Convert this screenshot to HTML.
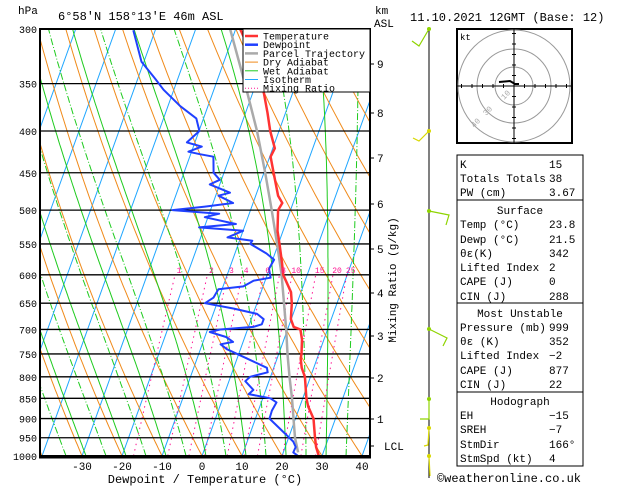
<!DOCTYPE html>
<html><head><meta charset="utf-8"><style>
body{margin:0;background:#fff;}
svg{display:block;font-family:"Liberation Mono","DejaVu Sans Mono",monospace;}
</style></head><body>
<svg id="c" width="629" height="486" viewBox="0 0 629 486">
<defs><clipPath id="pc"><rect x="40" y="29" width="330" height="427"/></clipPath></defs>
<g id="bg" clip-path="url(#pc)"></g>
<g id="series" clip-path="url(#pc)"></g>
<g id="frame"></g>
</svg>
<script>
const pLevels=[1000,950,900,850,800,750,700,650,600,550,500,450,400,350,300];
const xTicks=[-30,-20,-10,0,10,20,30,40];
const tempP=[1000,975,950,900,870,850,800,780,760,750,720,700,695,680,650,630,600,580,550,530,500,490,480,450,430,420,400,380,360,330,300];
const tempT=[29.2,27.7,26.6,24.5,22.1,20.9,18.6,17.0,15.9,15.7,14.5,13.2,11.3,9.9,8.7,7.5,4.0,2.6,0.3,-1.4,-3.1,-2.7,-4.4,-7.6,-9.8,-9.5,-12.2,-14.5,-17.1,-22,-28.9];
const dewP=[1000,990,975,960,900,880,860,850,840,830,810,800,790,780,740,730,725,715,705,700,695,690,680,670,660,650,640,625,620,610,605,590,575,565,550,545,540,530,525,520,510,505,500,495,490,480,476,465,459,450,430,427,424,418,413,400,386,373,356,345,329,301];
const dewT=[24,22.5,22.6,21.5,13.5,13.4,13.8,11.9,6.1,6.9,4.1,4.9,8.9,8.3,-3.4,-5.4,-2.5,-4.7,-9.2,-6.9,1.2,3.1,3.1,1.0,-5.3,-13,-11.4,-10.9,-4.9,-2.9,1.1,-0.1,0.35,-2.1,-7.0,-6.8,-13.3,-10,-21.3,-12.4,-20.8,-17.5,-29.5,-21.7,-15,-19.3,-16.7,-22.5,-20.4,-22.6,-24.1,-27.7,-30.8,-27.9,-32,-29.9,-31.8,-36.9,-42.6,-45.7,-50.6,-55.5];
const parP=[990,950,900,850,800,750,700,650,600,550,500,450,400,350,300];
const parT=[23.7,21.6,19.5,17.3,14.75,12.2,9.65,6.75,3.6,-0.3,-4.7,-9.7,-15.5,-22.75,-31.4];
const mixW=[1,2,3,4,6,8,10,15,20,25];
const kmLabels=["9","8","7","6","5","4","3","2","1","LCL"];
const kmY=[64,113,158,204,249,293,336,378,419,446];

const NS="http://www.w3.org/2000/svg";
const svg=document.getElementById('c');
function yP(p){return 29+354.6*Math.log(p/300);}
function xT(t,p){return 202+4.0*t+0.36*(456-yP(p));}
function mk(tag,at,parent){const e=document.createElementNS(NS,tag);for(const k in at)e.setAttribute(k,at[k]);(parent||svg).appendChild(e);return e;}
function txt(s,x,y,at,parent){const e=mk('text',Object.assign({x:x,y:y,'font-size':11,fill:'#000'},at||{}),parent);e.textContent=s;return e;}
const bg=document.getElementById('bg'),ser=document.getElementById('series'),fr=document.getElementById('frame');
function poly(pts){return pts.map(a=>a[0].toFixed(1)+','+a[1].toFixed(1)).join(' ');}
// isotherms
for(let t=-140;t<=40;t+=10){const e=mk('line',{x1:xT(t,1000),y1:yP(1000),x2:xT(t,300),y2:yP(300),stroke:'#1fa6ff','stroke-width':1},bg);

}
// dry adiabats
for(let t0=-60;t0<=160;t0+=10){const th=t0+273.15;const pts=[];for(let p=1000;p>=300;p-=10){pts.push([xT(th*Math.pow(p/1000,0.286)-273.15,p),yP(p)]);}
const e=mk('polyline',{points:poly(pts),fill:'none',stroke:'#f08a1a','stroke-width':1},bg);

}
// wet adiabats
function es(tc){return 6.112*Math.exp(17.67*tc/(tc+243.5));}
for(let t0=-34;t0<=40;t0+=5){let T=t0+273.15;const pts=[[xT(t0,1000),yP(1000)]];for(let p=1000;p>300;p-=5){const tc=T-273.15;const e=es(tc);const rs=0.622*e/(p-e);const dTdp=(287*T+2.5e6*rs)/(p*(1004+2.5e6*2.5e6*rs*0.622/(287*T*T)));T-=dTdp*5;pts.push([xT(T-273.15,p-5),yP(p-5)]);}
const e=mk('polyline',{points:poly(pts),fill:'none',stroke:'#1ecb1e','stroke-width':1,'stroke-dasharray':(t0%10===1||t0%10===-9)?'none':'7,2,1,2'},bg);

}
// mixing ratio
mixW.forEach(w=>{const pts=[];for(let p=1000;p>=600;p-=10){const e=w*p/(622+w);const l=Math.log(e/6.112);pts.push([xT(243.5*l/(17.67-l),p),yP(p)]);}
const e=mk('polyline',{points:poly(pts),fill:'none',stroke:'#ff1493','stroke-width':1,'stroke-dasharray':'1.5,4'},bg);


const last=pts[pts.length-1];const l=txt(String(w),last[0]+4,last[1]-2,{'font-size':8,fill:'#ff1493','text-anchor':'middle'},fr);

});
// pressure lines
pLevels.forEach(p=>{const y=yP(p);const e=mk('line',{x1:40,y1:y,x2:370,y2:y,stroke:'#000','stroke-width':1.3},bg);


const l=txt(String(p),37,y+4,{'text-anchor':'end','font-size':10},fr);

});
// series
function line(P,T,col,w,name){const pts=P.map((p,i)=>[xT(T[i],p),yP(p)]);const e=mk('polyline',{points:poly(pts),fill:'none',stroke:col,'stroke-width':w,'stroke-linejoin':'round'},ser);

}
line(parP,parT,'#aaaaaa',2.5,'parcel-trajectory');
line(tempP,tempT,'#ff3333',2.5,'temperature-line');
line(dewP,dewT,'#2040ff',2,'dewpoint-line');
// frame
let e=mk('rect',{x:40,y:29,width:330,height:427,fill:'none',stroke:'#000','stroke-width':2},fr);

mk('line',{x1:39,y1:457,x2:371,y2:457,stroke:'#000','stroke-width':3},fr);
xTicks.forEach(t=>{const x=xT(t,1000);const l=txt(String(t),x,470,{'text-anchor':'middle','font-size':11},fr);

});
e=txt('Dewpoint / Temperature (°C)',205,483,{'text-anchor':'middle','font-size':12},fr);
e=txt('hPa',18,14,{'font-size':11},fr);
e=txt("6°58'N 158°13'E 46m ASL",58,20,{'font-size':12},fr);
e=txt('km',375,14,{'font-size':11},fr);
e=txt('ASL',374,27,{'font-size':11},fr);

kmLabels.forEach((k,i)=>{mk('line',{x1:370,y1:kmY[i],x2:374,y2:kmY[i],stroke:'#000'},fr);const l=txt(k,k==='LCL'?384:377,kmY[i]+4,{'font-size':11},fr);

});
e=txt('Mixing Ratio (g/kg)',0,0,{'font-size':11,transform:'translate(396,280) rotate(-90)','text-anchor':'middle'},fr);
// legend
const leg=mk('g',{},fr);
mk('rect',{x:243,y:29,width:127,height:63,fill:'#fff',stroke:'#000','stroke-width':1},leg);
const legN=['Temperature','Dewpoint','Parcel Trajectory','Dry Adiabat','Wet Adiabat','Isotherm','Mixing Ratio'];
const legC=['#ff3333','#2040ff','#aaaaaa','#f08a1a','#1ecb1e','#1fa6ff','#ff1493'];
const legW=[2.5,2.5,2.5,1,1,1,1];
legN.forEach((n,i)=>{const y=36+i*8.7;const g=mk('g',{},leg);
mk('line',{x1:245,y1:y,x2:258,y2:y,stroke:legC[i],'stroke-width':legW[i],'stroke-dasharray':i===6?'1,2':'none'},g);
txt(n,263,y+3.5,{'font-size':10},g);});
// date
e=txt('11.10.2021 12GMT (Base: 12)',410,21,{'font-size':12},fr);
// wind barb column
mk('line',{x1:429,y1:29,x2:429,y2:478,stroke:'#000','stroke-width':1},fr);
const barbs=[[29,'#8fd400',[[429,29],[419,46],[412,41]]],[131,'#d8d800',[[429,131],[419,141],[413,138]]],[211,'#8fd400',[[429,211],[449,215],[446,225]]],[329,'#8fd400',[[429,329],[447,338],[443,346]]],[399,'#8fd400',[[429,399],[429,419],[420,419]]],[428,'#d8d800',[[429,428],[428,445],[424,446]]],[456,'#d8d800',[[429,456],[430,476]]]];
barbs.forEach(b=>{const g=mk('g',{},fr);
mk('polyline',{points:poly(b[2]),fill:'none',stroke:b[1],'stroke-width':1.2},g);mk('circle',{cx:429,cy:b[0],r:2,fill:b[1]},g);});
// hodograph
const hg=mk('g',{},fr);
mk('rect',{x:457,y:29,width:115,height:114,fill:'#fff',stroke:'#000','stroke-width':2},hg);
[19,37,56].forEach(r=>mk('circle',{cx:514,cy:86,r:r,fill:'none',stroke:'#999','stroke-width':1},hg));
mk('line',{x1:457,y1:86,x2:572,y2:86,stroke:'#000'},hg);mk('line',{x1:514,y1:29,x2:514,y2:143,stroke:'#000'},hg);
for(let i=-5;i<=5;i++){if(!i)continue;mk('line',{x1:514+i*10.5,y1:84,x2:514+i*10.5,y2:88,stroke:'#000'},hg);mk('line',{x1:512,y1:86+i*10.5,x2:516,y2:86+i*10.5,stroke:'#000'},hg);}
mk('polyline',{points:'499,82 510,81 515,84 519,84',fill:'none',stroke:'#000','stroke-width':2},hg);
txt('kt',460,40,{'font-size':9},hg);
[['10',504,100],['30',486,116],['40',474,128]].forEach(a=>txt(a[0],a[1],a[2],{'font-size':8,fill:'#aaa',transform:'rotate(-45 '+a[1]+' '+a[2]+')'},hg));
// table
const tb=mk('g',{},fr);
mk('rect',{x:457,y:155,width:126,height:311,fill:'#fff',stroke:'#000','stroke-width':1},tb);
[200,303,392].forEach(y=>mk('line',{x1:457,y1:y,x2:583,y2:y,stroke:'#000'},tb));
const rowsL=['K','Totals Totals','PW (cm)','@Surface','Temp (°C)','Dewp (°C)','θε(K)','Lifted Index','CAPE (J)','CIN (J)','@Most Unstable','Pressure (mb)','θε (K)','Lifted Index','CAPE (J)','CIN (J)','@Hodograph','EH','SREH','StmDir','StmSpd (kt)'];
const rowsV=['15','38','3.67','','23.8','21.5','342','2','0','288','','999','352','−2','877','22','','−15','−7','166°','4'];
const rowsY=[168,182,196,214,228,243,257,271,285,300,317,331,345,359,374,388,405,419,433,448,462];
rowsL.forEach((l,i)=>{const g=mk('g',{},tb);
if(l[0]==='@')txt(l.slice(1),520,rowsY[i],{'text-anchor':'middle','font-size':11},g);else{txt(l,460,rowsY[i],{'font-size':11},g);txt(rowsV[i],549,rowsY[i],{'font-size':11},g);}});
e=txt('©weatheronline.co.uk',509,482,{'text-anchor':'middle','font-size':12},fr);
</script>
</body></html>
